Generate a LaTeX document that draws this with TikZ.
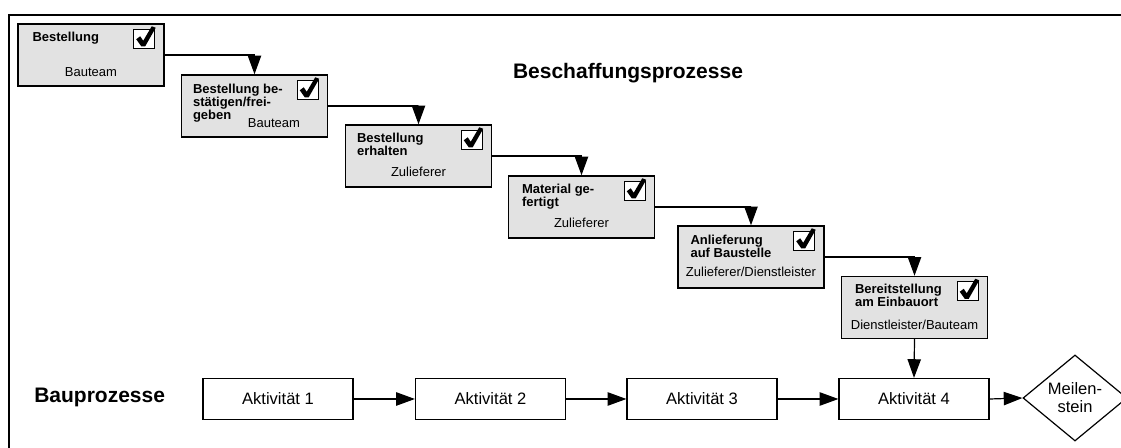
\documentclass[tikz,border=0pt]{standalone}
\usepackage{fontspec}
\setmainfont{Liberation Sans}
\usetikzlibrary{arrows.meta,shapes.geometric,calc}
\definecolor{boxgray}{RGB}{226,226,226}
\begin{document}
\begin{tikzpicture}[x=0.75pt,y=-0.75pt,
  stage/.style={draw,line width=1.1pt,fill=boxgray,minimum width=109.5pt,minimum height=46.5pt,inner sep=0pt},
  stagetitle/.style={anchor=north west,align=left,inner sep=0pt,font=\fontsize{9.75pt}{9.6pt}\selectfont\bfseries},
  role/.style={inner sep=0pt,font=\fontsize{9.75pt}{11pt}\selectfont},
  activity/.style={draw,line width=0.9pt,fill=white,minimum width=112.5pt,minimum height=30.75pt,inner sep=0pt,font=\fontsize{12.4pt}{14pt}\selectfont},
  milestone/.style={diamond,draw,line width=0.9pt,fill=white,minimum width=78pt,minimum height=64.5pt,inner sep=0pt,align=center,font=\fontsize{12.4pt}{13.5pt}\selectfont},
  flow/.style={line width=0.9pt,-{Triangle[length=14pt,width=10pt]}},
  heading/.style={inner sep=0pt,font=\fontsize{15.75pt}{18pt}\selectfont\bfseries},
  tickbox/.pic={
    \draw[line width=1pt,fill=white] (0,0) rectangle (21,19);
    \fill (2.5,10) -- (6.5,7) -- (9.5,11.5) -- (18,-3) -- (22,-1.5) -- (11.5,17) -- (7.5,17) -- cycle;
  }
]
\useasboundingbox (0,0) rectangle (1121,448);

% outer frame (top and left edges)
\draw[line width=1pt] (1121,15) -- (9,15) -- (9,448);

% headings
\node[heading] (hbeschaffung) at (628,73) {Beschaffungsprozesse};
\node[heading,anchor=west] (hbau) at (34,397) {Bauprozesse};

% procurement stages
\node[stage] (b1) at (91,55) {};
\node[stage] (b2) at (254.5,106) {};
\node[stage] (b3) at (418.5,156) {};
\node[stage] (b4) at (581.5,207) {};
\node[stage] (b5) at (751,257) {};
\node[stage] (b6) at (914.5,307.5) {};

\node[stagetitle] (t1) at ($(b1.north west)+(15,9)$) {Bestellung};
\node[stagetitle] (t2) at ($(b2.north west)+(12,10)$) {Bestellung be-\\stätigen/frei-\\geben};
\node[stagetitle] (t3) at ($(b3.north west)+(12,9)$) {Bestellung\\erhalten};
\node[stagetitle] (t4) at ($(b4.north west)+(14,9)$) {Material ge-\\fertigt};
\node[stagetitle] (t5) at ($(b5.north west)+(13,10)$) {Anlieferung\\auf Baustelle};
\node[stagetitle] (t6) at ($(b6.north west)+(14,8)$) {Bereitstellung\\am Einbauort};

\node[role] (r1) at ($(b1.north)+(0,49)$) {Bauteam};
\node[role] (r2) at ($(b2.north)+(19.5,49)$) {Bauteam};
\node[role] (r3) at ($(b3.north)+(0,48)$) {Zulieferer};
\node[role] (r4) at ($(b4.north)+(0,48)$) {Zulieferer};
\node[role] (r5) at ($(b5.north)+(0,47)$) {Zulieferer/Dienstleister};
\node[role] (r6) at ($(b6.north)+(0,49)$) {Dienstleister/Bauteam};

\foreach \b in {b1,b2,b3,b4,b5,b6}
  \pic at ($(\b.north east)+(-31,6)$) {tickbox};

% construction activities
\node[activity] (a1) at (278,399) {Aktivität 1};
\node[activity] (a2) at (490.5,399) {Aktivität 2};
\node[activity] (a3) at (702,399) {Aktivität 3};
\node[activity] (a4) at (914,399) {Aktivität 4};
\node[milestone] (ms) at (1075,398) {Meilen-\\stein};

% connectors
\draw[flow] (b1.east) -| (b2.north);
\draw[flow] (b2.east) -| (b3.north);
\draw[flow] (b3.east) -| (b4.north);
\draw[flow] (b4.east) -| (b5.north);
\draw[flow] (b5.east) -| (b6.north);
\draw[flow] (b6.south) -- (a4.north);
\draw[flow] (a1.east) -- (a2.west);
\draw[flow] (a2.east) -- (a3.west);
\draw[flow] (a3.east) -- (a4.west);
\draw[flow] (a4.east) -- (ms.west);
\end{tikzpicture}
\end{document}
